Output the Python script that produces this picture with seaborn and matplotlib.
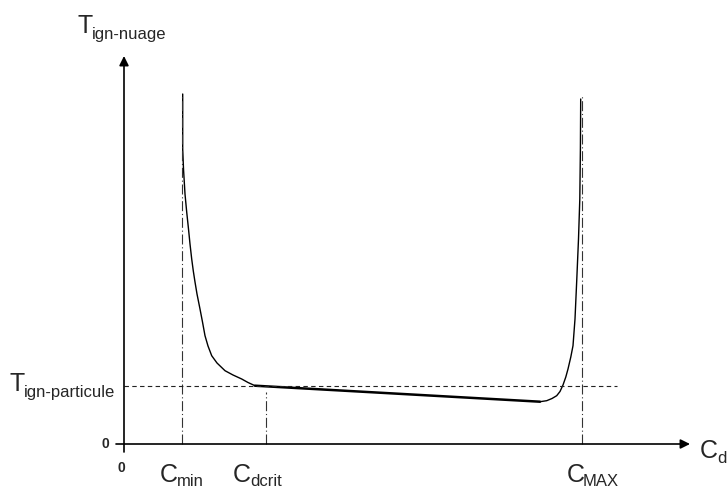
import matplotlib
matplotlib.use("Agg")
import matplotlib.pyplot as plt
import seaborn as sns
import pandas as pd

sns.set_style("white")
plt.rcParams['font.family'] = ['Liberation Sans', 'DejaVu Sans']

# Schematic curve (x: concentration, y: ignition temperature), arbitrary units
left_x = [58.7, 58.7, 59.5, 61.0, 62.7, 64.5, 66.0, 67.7, 69.3, 71.0, 73.0, 76.0,
          78.5, 81.0, 84.0, 87.7, 93.0, 101.0, 109.0, 117.7, 124.0, 131.0]
left_y = [350, 295, 275, 250, 232, 215, 200, 185, 173, 162, 150, 135,
          122, 108.3, 98, 88.3, 81, 73.3, 69, 65.0, 61.5, 58.3]
mid_x = [131.0, 416.0]
mid_y = [58.3, 42.3]
right_x = [416.0, 422.7, 428.0, 432.7, 436.0, 439.0, 441.8, 444.0, 446.8, 449.0,
           451.0, 452.8, 454.5, 455.8, 456.4, 456.7]
right_y = [42.3, 43.3, 45.5, 48.3, 52.5, 59.0, 67.0, 75.0, 87.0, 98.3,
           125.0, 165.0, 205.0, 245.0, 295.0, 345.0]

C_min = 58.3
C_dcrit = 141.7
C_MAX = 457.7
T_particule = 58.3
y_top = 350
x_axis_end = 566
y_axis_end = 388

fig = plt.figure(figsize=(7.28, 4.89), dpi=100)
ax = fig.add_axes([0, 0, 1, 1])
ax.set_xlim(-124, 604)
ax.set_ylim(-44, 445)
ax.set_axis_off()

df_l = pd.DataFrame({"x": left_x, "y": left_y})
df_m = pd.DataFrame({"x": mid_x, "y": mid_y})
df_r = pd.DataFrame({"x": right_x, "y": right_y})
sns.lineplot(data=df_l, x="x", y="y", ax=ax, color="black", lw=1.0, sort=False, estimator=None)
sns.lineplot(data=df_m, x="x", y="y", ax=ax, color="black", lw=1.8, sort=False, estimator=None)
sns.lineplot(data=df_r, x="x", y="y", ax=ax, color="black", lw=1.0, sort=False, estimator=None)

dashdot = (0, (9, 2.5, 1, 2.5))
ax.plot([C_min, C_min], [0, y_top], color="#333333", lw=0.8, ls=dashdot)
ax.plot([C_MAX, C_MAX], [0, y_top], color="#333333", lw=0.8, ls=dashdot)
ax.plot([C_dcrit, C_dcrit], [0, 52], color="#333333", lw=0.8, ls=dashdot)
ax.plot([0, 493], [T_particule, T_particule], color="#222222", lw=0.8, ls=(0, (4, 3)))

arrow = dict(arrowstyle="-|>", lw=1.2, color="black", mutation_scale=14, shrinkA=0, shrinkB=0)
ax.annotate("", xy=(x_axis_end, 0), xytext=(-8, 0), arrowprops=arrow)
ax.annotate("", xy=(0, y_axis_end), xytext=(0, -8), arrowprops=arrow)

big = 18
small = 12
def label(xm, ym, xs, ys, main, sub):
    ax.text(xm, ym, main, fontsize=big, ha="left", va="baseline")
    ax.text(xs, ys, sub, fontsize=small, ha="left", va="baseline")

label(-47, 411.7, -32, 405.7, "T", "ign-nuage")
label(-114, 54, -100, 48.3, "T", "ign-particule")
label(36, -37, 53, -41.5, "C", "min")
label(109, -37, 126.5, -41.5, "C", "dcrit")
label(443, -37, 459, -41.5, "C", "MAX")
label(576, -13, 593, -18.5, "C", "d")

ax.text(-22.5, -3, "0", fontsize=10, fontweight="bold", ha="left", va="baseline")
ax.text(-6, -27, "0", fontsize=10, fontweight="bold", ha="left", va="baseline")

fig.savefig("out.png", dpi=100)
